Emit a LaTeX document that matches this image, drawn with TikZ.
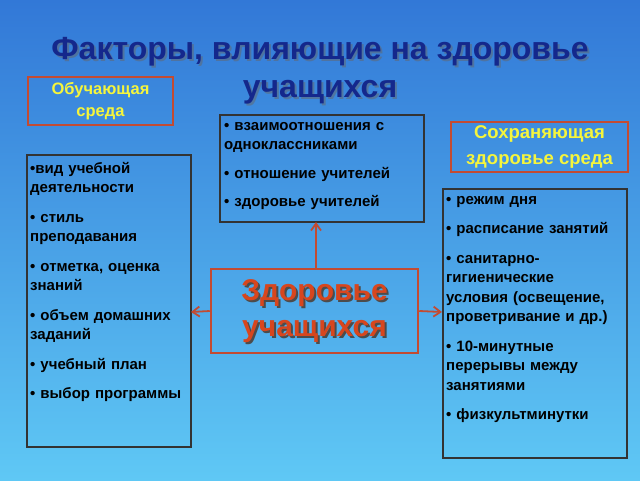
\documentclass[tikz,border=0pt]{standalone}
\usepackage{fontspec}
\setmainfont{Liberation Sans}
\usetikzlibrary{arrows.meta}
\definecolor{bgtop}{RGB}{50,120,215}
\definecolor{bgbot}{RGB}{95,200,245}
\definecolor{redb}{RGB}{195,75,50}
\definecolor{titc}{RGB}{20,40,140}
\definecolor{yel}{RGB}{245,245,60}
\definecolor{ctext}{RGB}{215,70,30}
\tikzset{
 lst/.style={align=left,anchor=north west,inner sep=3pt,font=\bfseries\fontsize{15}{19.5}\selectfont},
 box/.style={draw=black!80,line width=1.5pt},
 hdr/.style={draw=redb,line width=1.5pt,align=center,text=yel,font=\bfseries\fontsize{16.5}{22}\selectfont},
 arr/.style={draw=redb,line width=1.8pt,-{Straight Barb[length=7pt,width=10pt]}}
}
\begin{document}
\begin{tikzpicture}[x=1pt,y=-1pt]
\shade[top color=bgtop,bottom color=bgbot] (0,0) rectangle (640,480);
\useasboundingbox (0,0) rectangle (640,480);
\node[font=\bfseries\fontsize{32}{38}\selectfont,text=black!60,opacity=0.5,align=center] at (322,73) {Факторы, влияющие на здоровье\\учащихся};
\node[font=\bfseries\fontsize{32}{38}\selectfont,text=titc,align=center] (title) at (320,71) {Факторы, влияющие на здоровье\\учащихся};
\node[hdr,minimum width=145,minimum height=48] (ob) at (100.5,101) {Обучающая\\среда};
\node[hdr,minimum width=177,minimum height=50,font=\bfseries\fontsize{18.5}{26}\selectfont] (sx) at (539.5,147) {Сохраняющая\\здоровье среда};
\draw[box] (220,115) rectangle (424,222);
\node[lst,text width=196] (mid) at (221,119) {• взаимоотношения с одноклассниками\\[9pt]• отношение учителей\\[9pt]• здоровье учителей};
\coordinate (midb) at (316,222);
\draw[box] (27,155) rectangle (191,447);
\coordinate (leftr) at (191,312);
\node[lst,text width=158] (left) at (27,159) {•вид учебной деятельности\\[10pt]• стиль преподавания\\[10pt]• отметка, оценка знаний\\[10pt]• объем домашних заданий\\[10pt]• учебный план\\[10pt]• выбор программы};
\draw[box] (443,189) rectangle (627,458);
\coordinate (rightl) at (442,312);
\node[lst,text width=178] (right) at (443,193) {• режим дня\\[10pt]• расписание занятий\\[10pt]• санитарно-гигиенические условия (освещение, проветривание и др.)\\[10pt]• 10-минутные перерывы между занятиями\\[10pt]• физкультминутки};
\node[align=center,text=black!70,font=\bfseries\fontsize{30}{36}\selectfont] at (316.5,313) {Здоровье\\учащихся};
\node[draw=redb,line width=2.5pt,minimum width=207,minimum height=84,align=center,text=ctext,font=\bfseries\fontsize{30}{36}\selectfont] (c) at (314.5,311) {Здоровье\\учащихся};
\draw[arr] (c.north -| midb) -- (midb);
\draw[arr] (c.west) -- (leftr);
\draw[arr] (c.east) -- (rightl);
\end{tikzpicture}
\end{document}
